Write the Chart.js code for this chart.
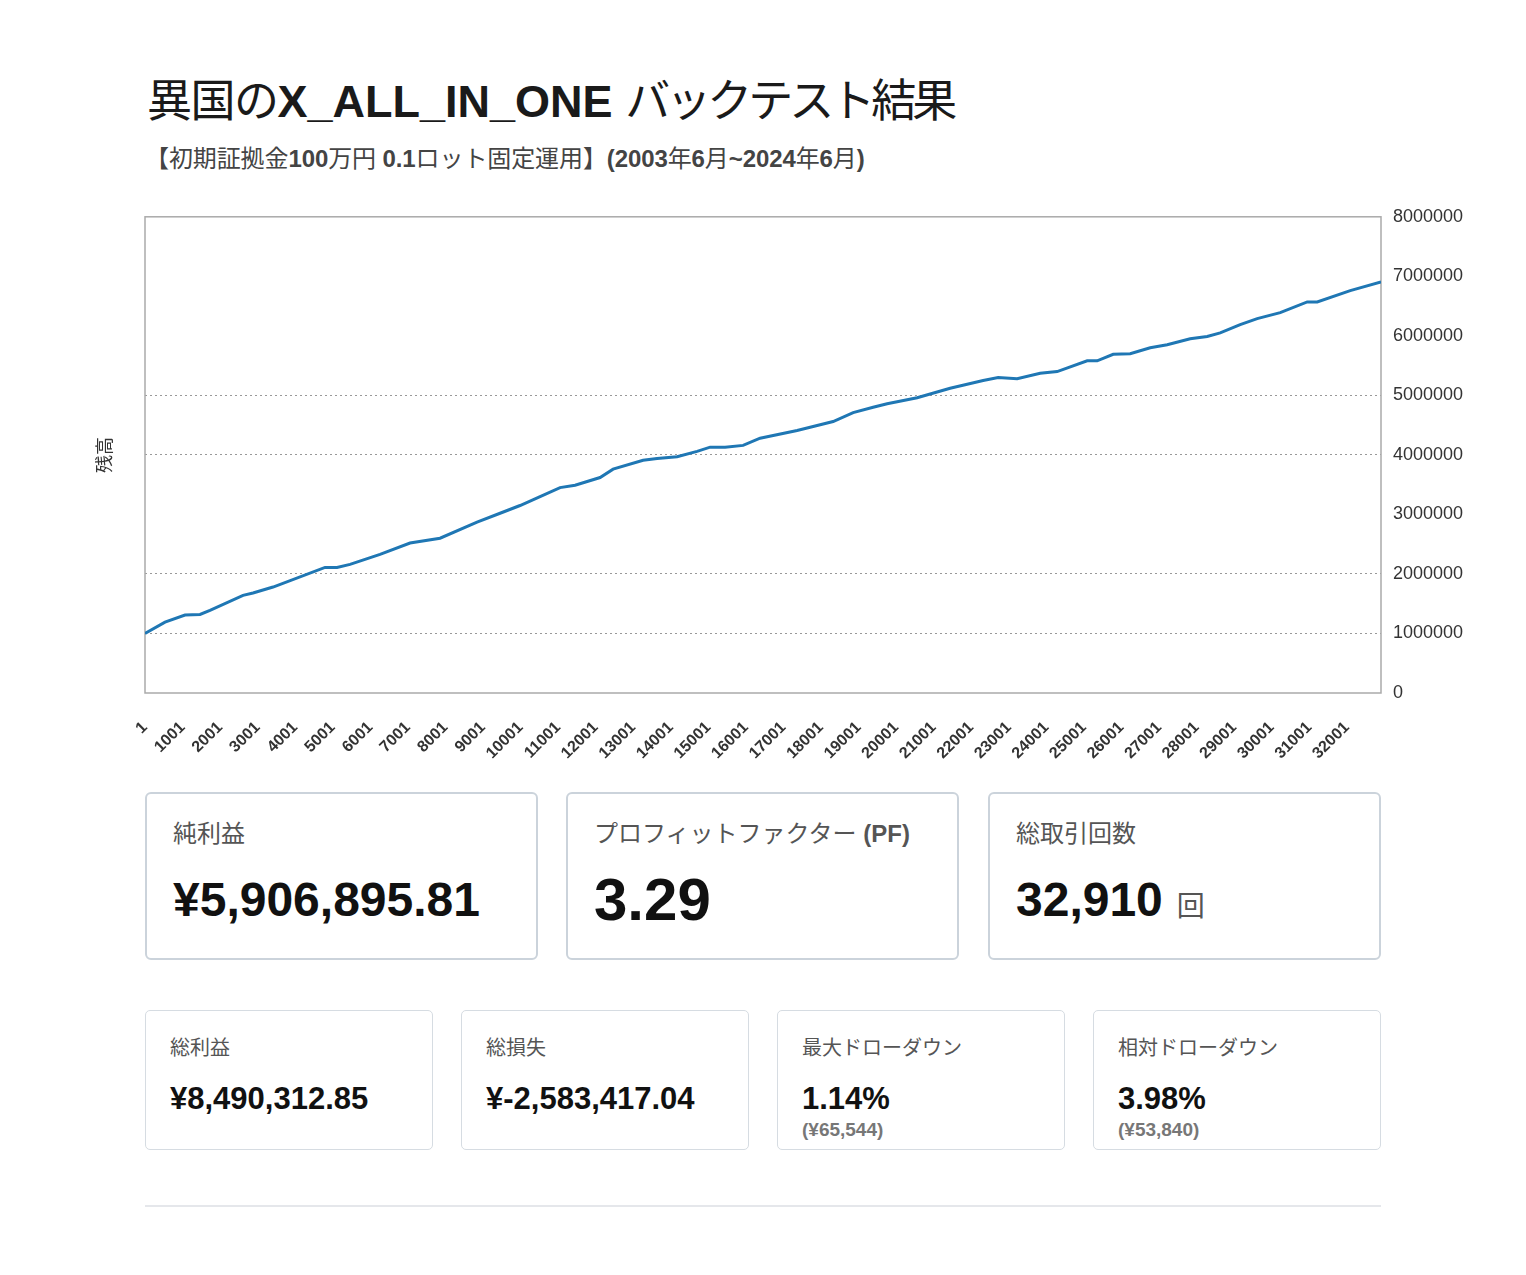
<!DOCTYPE html>
<html lang="ja">
<head>
<meta charset="utf-8">
<title>異国のX_ALL_IN_ONE バックテスト結果</title>
<script src="https://cdn.jsdelivr.net/npm/chart.js@4.4.1/dist/chart.umd.min.js"></script>
<style>
  body { margin: 0; background: #fff; font-family: "Liberation Sans", Arial, "Noto Sans CJK JP", sans-serif; color: #222; }
  .wrap { position: relative; width: 1236px; height: 1275px; margin: 0 auto; }
  h1 { position: absolute; top: 75px; left: 2px; margin: 0; font-size: 45px; line-height: 54px; font-weight: normal; color: #1a1a1a; white-space: nowrap; }
  h1 .jp1 { letter-spacing: -1.5px; }
  h1 .jp2 { letter-spacing: -4px; }
  .sub { position: absolute; top: 144px; left: 0; font-size: 24px; line-height: 30px; color: #444; white-space: nowrap; letter-spacing: -0.1px; }
  .chartBox { position: absolute; top: 194px; left: -60px; width: 1390px; height: 576px; }
  .card { position: absolute; box-sizing: border-box; background: #fff; }
  .big { top: 792px; width: 393px; height: 168px; border: 2px solid #cbd3db; border-radius: 6px; }
  .small { top: 1010px; width: 288px; height: 140px; border: 1.5px solid #d6dce2; border-radius: 5px; }
  .lbl { position: absolute; white-space: nowrap; color: #555; }
  .big .lbl { left: 26px; top: 25px; font-size: 24px; line-height: 30px; }
  .small .lbl { left: 24px; top: 25px; font-size: 20px; line-height: 24px; color: #555; }
  .val { position: absolute; white-space: nowrap; font-weight: bold; color: #111; display: flex; align-items: baseline; }
  .big .val { left: 26px; top: 82px; font-size: 48px; line-height: 48px; }
  .big .val.pf { top: 76px; font-size: 60px; line-height: 60px; }
  .unit { font-size: 28px; font-weight: normal; color: #555; margin-left: 14px; }
  .small .val { left: 24px; top: 73px; font-size: 31px; line-height: 30px; }
  .note { position: absolute; left: 24px; top: 109px; font-size: 19px; line-height: 20px; font-weight: bold; color: #777; }
  .rule { position: absolute; top: 1205px; left: 0; width: 1236px; height: 2px; background: #e5e7eb; }
</style>
</head>
<body>
<div class="wrap">
  <h1><span class="jp1">異国の</span><b>X_ALL_IN_ONE</b> <span class="jp2">バックテスト結果</span></h1>
  <div class="sub">【初期証拠金<b>100</b>万円 <b>0.1</b>ロット固定運用】<b>(2003</b>年<b>6</b>月<b>~2024</b>年<b>6</b>月<b>)</b></div>
  <div class="chartBox"><canvas id="chartBalance"></canvas></div>

  <div class="card big" style="left:0"><div class="lbl">純利益</div><div class="val">¥5,906,895.81</div></div>
  <div class="card big" style="left:421px"><div class="lbl">プロフィットファクター <b>(PF)</b></div><div class="val pf">3.29</div></div>
  <div class="card big" style="left:843px"><div class="lbl">総取引回数</div><div class="val">32,910<span class="unit">回</span></div></div>

  <div class="card small" style="left:0"><div class="lbl">総利益</div><div class="val">¥8,490,312.85</div></div>
  <div class="card small" style="left:316px"><div class="lbl">総損失</div><div class="val">¥-2,583,417.04</div></div>
  <div class="card small" style="left:632px"><div class="lbl">最大ドローダウン</div><div class="val">1.14%</div><div class="note">(¥65,544)</div></div>
  <div class="card small" style="left:948px"><div class="lbl">相対ドローダウン</div><div class="val">3.98%</div><div class="note">(¥53,840)</div></div>

  <div class="rule"></div>
</div>
<script>
// 取引番号と残高
const tradeNo = [1, 534, 1066, 1466, 1731, 2611, 2877, 3410, 4794, 5114,
  5460, 6259, 7058, 7857, 8842, 9455, 9987, 10520, 11052, 11452,
  12118, 12464, 13263, 13636, 14168, 14701, 15047, 15446, 15926, 16378,
  17364, 18323, 18856, 19388, 19761, 20560, 21438, 22317, 22717, 23222,
  23835, 24288, 25087, 25353, 25779, 26232, 26765, 27217, 27830, 28282,
  28629, 29161, 29614, 30227, 30946, 31212, 32091, 32910];
const balance = [1000000, 1190000, 1310000, 1320000, 1390000, 1640000, 1680000, 1780000, 2110000, 2110000,
  2160000, 2330000, 2520000, 2600000, 2870000, 3020000, 3150000, 3300000, 3450000, 3490000,
  3620000, 3760000, 3910000, 3940000, 3970000, 4060000, 4130000, 4130000, 4160000, 4280000,
  4410000, 4560000, 4710000, 4800000, 4860000, 4960000, 5120000, 5250000, 5300000, 5280000,
  5370000, 5400000, 5580000, 5580000, 5690000, 5700000, 5800000, 5850000, 5950000, 5990000,
  6050000, 6190000, 6290000, 6390000, 6570000, 6570000, 6760000, 6906896];
const xTicks = [1, 1001, 2001, 3001, 4001, 5001, 6001, 7001, 8001, 9001, 10001,
  11001, 12001, 13001, 14001, 15001, 16001, 17001, 18001, 19001, 20001, 21001,
  22001, 23001, 24001, 25001, 26001, 27001, 28001, 29001, 30001, 31001, 32001];
const yGridShown = [1000000, 2000000, 4000000, 5000000];

Chart.defaults.font.family = '"Liberation Sans", Arial, "Noto Sans CJK JP", sans-serif';

const frame = {
  id: 'frame',
  beforeDatasetsDraw(chart) {
    const { ctx, chartArea: a } = chart;
    ctx.save();
    ctx.strokeStyle = '#aaa';
    ctx.lineWidth = 1.5;
    ctx.strokeRect(a.left, a.top, a.right - a.left, a.bottom - a.top);
    ctx.restore();
  }
};

new Chart(document.getElementById('chartBalance'), {
  type: 'line',
  data: {
    datasets: [{
      label: '残高',
      data: tradeNo.map((n, i) => ({ x: n, y: balance[i] })),
      xAxisID: 'x',
      yAxisID: 'y',
      borderColor: '#1f77b4',
      borderWidth: 3,
      pointRadius: 0,
      tension: 0,
      fill: false
    }]
  },
  options: {
    responsive: true,
    maintainAspectRatio: false,
    animation: false,
    layout: { padding: 0 },
    plugins: { legend: { display: false }, tooltip: { enabled: false } },
    scales: {
      x: {
        type: 'linear', min: 1, max: 32910,
        grid: { display: false },
        border: { display: false },
        afterBuildTicks: s => { s.ticks = xTicks.map(v => ({ value: v })); },
        afterFit: s => { s.height = 77; },
        ticks: { autoSkip: false, maxRotation: 45, minRotation: 45, padding: 17, color: '#333', font: { size: 16, weight: 'bold' }, callback: v => String(v) }
      },
      y: {
        position: 'right', min: 0, max: 8000000,
        afterFit: s => { s.width = 94; },
        grid: { drawTicks: false, color: c => yGridShown.includes(c.tick.value) ? '#999' : 'rgba(0,0,0,0)' },
        border: { display: false, dash: [2, 3] },
        ticks: { stepSize: 1000000, padding: 12, color: '#333', font: { size: 18 }, callback: v => String(v) }
      },
      yTitle: {
        type: 'linear', position: 'left', min: 0, max: 1,
        afterFit: s => { s.width = 60; },
        grid: { display: false, drawTicks: false },
        border: { display: false },
        ticks: { display: false },
        title: { display: true, text: '残高', color: '#333', font: { size: 18 }, padding: { top: 10, bottom: 0 } }
      }
    }
  },
  plugins: [frame]
});
</script>
</body>
</html>
